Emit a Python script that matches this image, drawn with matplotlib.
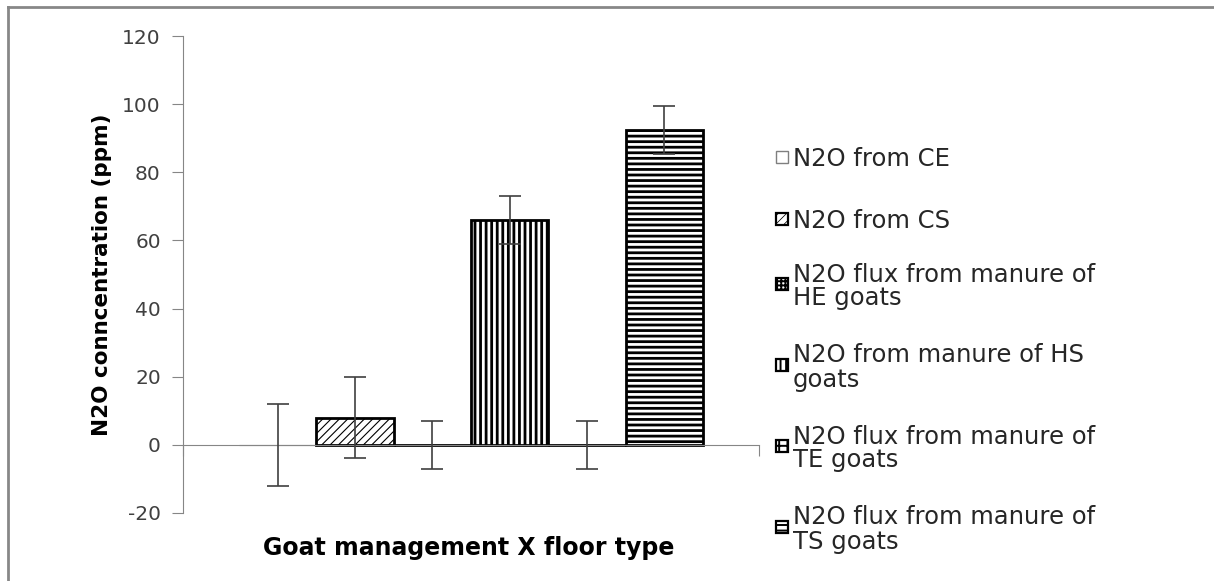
import matplotlib
matplotlib.use("Agg")
import matplotlib.pyplot as plt
from matplotlib.lines import Line2D
from matplotlib.patches import Rectangle

plt.rcParams['font.family'] = ['DejaVu Sans']
plt.rcParams['axes.unicode_minus'] = False

# data
labels = ["N2O from CE", "N2O from CS", "N2O flux from manure of\nHE goats",
          "N2O from manure of HS\ngoats", "N2O flux from manure of\nTE goats",
          "N2O flux from manure of\nTS goats"]
values = [0, 8, 0, 66, 0, 92.5]
errors = [12, 12, 7, 7, 7, 7]
hatches = [None, "////", "++++", "|||", "++", "---"]
yticks = [-20, 0, 20, 40, 60, 80, 100, 120]

W, H = 1214, 581
fig = plt.figure(figsize=(W / 100, H / 100), dpi=100)
ax = fig.add_axes([183 / W, 1 - 513 / H, 576 / W, (513 - 36) / H])


def style(i):
    if i == 0:
        return dict(facecolor="white", edgecolor="#7f7f7f", linewidth=0.8)
    return dict(facecolor="white", edgecolor="black", linewidth=2.0, hatch=hatches[i])


def hatch_lw(i):
    return 0.8 if hatches[i] == "////" else 2.0


n = len(values)
bw = 0.1342
gap = (1 - n * bw) / 2
for i, (v, e) in enumerate(zip(values, errors)):
    x = gap + bw * (i + 0.5)
    with plt.rc_context({"hatch.linewidth": hatch_lw(i), "hatch.color": "black"}):
        ax.bar(x, v, bw, zorder=2, **style(i))
    ax.errorbar(x, v, yerr=e, fmt="none", ecolor="#404040", elinewidth=1.2,
                capsize=8, capthick=1.2, zorder=3)

ax.set_xlim(0, 1)
ax.set_ylim(-20, 120)
ax.set_yticks(yticks)
ax.set_xticks([0, 1])
ax.set_xticklabels([])
ax.tick_params(axis="y", direction="out", length=8, color="#868686", labelsize=14.5,
               labelcolor="#404040", pad=8)
ax.tick_params(axis="x", direction="out", length=8, color="#868686")
for s in ["top", "right"]:
    ax.spines[s].set_visible(False)
ax.spines["bottom"].set_position(("data", 0))
ax.spines["left"].set_color("#868686")
ax.spines["bottom"].set_color("#868686")
ax.patch.set_alpha(0)

ax.set_ylabel("N2O conncentration (ppm)", fontsize=15.5, fontweight="bold", labelpad=7)
fig.text(469 / W, 1 - 548 / H, "Goat management X floor type", fontsize=17,
         fontweight="bold", ha="center", va="center")

# legend drawn beside the plot, keys aligned with the first text line
key_x, txt_x, key = 776, 793, 12
leg_y = 157
leg_gaps = [62, 65, 81, 81, 81, 0]
for i, lab in enumerate(labels):
    with plt.rc_context({"hatch.linewidth": hatch_lw(i) * 0.7, "hatch.color": "black"}):
        st = style(i)
        st["linewidth"] = 1.0 if i == 0 else 1.6
        fig.add_artist(Rectangle((key_x / W, 1 - (leg_y + key / 2) / H), key / W, key / H,
                                 transform=fig.transFigure, **st))
    fig.text(txt_x / W, 1 - leg_y / H, lab, fontsize=17.5, color="#262626",
             ha="left", va="center_baseline", linespacing=1.0)
    leg_y += leg_gaps[i]

# outer frame (left and top edges)
fig.add_artist(Line2D([8 / W, 8 / W], [0, 1 - 7 / H], transform=fig.transFigure,
                      color="#878787", linewidth=2))
fig.add_artist(Line2D([8 / W, 1], [1 - 7 / H, 1 - 7 / H], transform=fig.transFigure,
                      color="#878787", linewidth=2))

fig.savefig("out.png", dpi=100)
